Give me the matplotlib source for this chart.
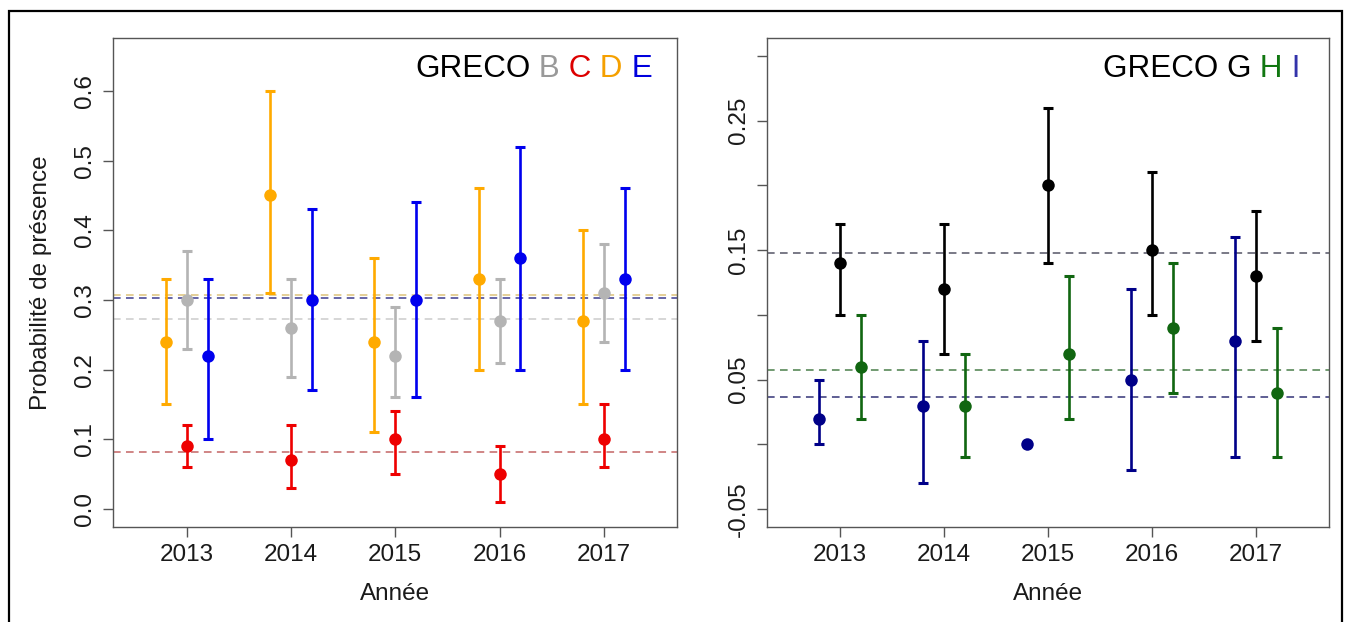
import numpy as np
import matplotlib
matplotlib.use('Agg')
import matplotlib.pyplot as plt
from matplotlib.patches import Rectangle

plt.rcParams['font.family'] = ['Liberation Sans', 'DejaVu Sans']

years = [2013, 2014, 2015, 2016, 2017]
year_labels = ['2013', '2014', '2015', '2016', '2017']

# left panel: GRECO B, C, D, E
b_est = [0.30, 0.26, 0.22, 0.27, 0.31]
b_low = [0.23, 0.19, 0.16, 0.21, 0.24]
b_high = [0.37, 0.33, 0.29, 0.33, 0.38]
c_est = [0.09, 0.07, 0.10, 0.05, 0.10]
c_low = [0.06, 0.03, 0.05, 0.01, 0.06]
c_high = [0.12, 0.12, 0.14, 0.09, 0.15]
d_est = [0.24, 0.45, 0.24, 0.33, 0.27]
d_low = [0.15, 0.31, 0.11, 0.20, 0.15]
d_high = [0.33, 0.60, 0.36, 0.46, 0.40]
e_est = [0.22, 0.30, 0.30, 0.36, 0.33]
e_low = [0.10, 0.17, 0.16, 0.20, 0.20]
e_high = [0.33, 0.43, 0.44, 0.52, 0.46]
b_mean, c_mean, d_mean, e_mean = 0.272, 0.082, 0.307, 0.303

# right panel: GRECO G, H, I
g_est = [0.14, 0.12, 0.20, 0.15, 0.13]
g_low = [0.10, 0.07, 0.14, 0.10, 0.08]
g_high = [0.17, 0.17, 0.26, 0.21, 0.18]
h_est = [0.06, 0.03, 0.07, 0.09, 0.04]
h_low = [0.02, -0.01, 0.02, 0.04, -0.01]
h_high = [0.10, 0.07, 0.13, 0.14, 0.09]
i_est = [0.02, 0.03, 0.00, 0.05, 0.08]
i_low = [0.00, -0.03, np.nan, -0.02, -0.01]
i_high = [0.05, 0.08, np.nan, 0.12, 0.16]
g_mean, h_mean, i_mean = 0.148, 0.0575, 0.0365

col_b, col_c, col_d, col_e = '#b4b4b4', '#ee0000', '#ffaa00', '#0000ee'
col_g, col_h, col_i = '#000000', '#116611', '#000088'

axis_col = '#555555'
text_col = '#1a1a1a'


def draw_series(ax, offset, est, low, high, color):
    x = np.array(years) + offset
    est = np.array(est)
    low = np.array(low)
    high = np.array(high)
    ok = ~np.isnan(low)
    # error bars with flat caps, then the points on top
    ax.errorbar(x[ok], est[ok], yerr=[est[ok] - low[ok], high[ok] - est[ok]],
                fmt='none', ecolor=color, elinewidth=1.9, capsize=3.5,
                capthick=2.2, zorder=3)
    ax.plot(x, est, 'o', color=color, ms=9, mew=0, zorder=4)


def mean_line(ax, y, color):
    ax.axhline(y, color=color, lw=1.1, ls=(0, (5, 3.5)), zorder=2)


def colored_title(ax, x, y, parts):
    t = ax.text(x, y, parts[0][0], color=parts[0][1], transform=ax.transAxes,
                fontsize=22.6, va='baseline', ha='left')
    for s, c in parts[1:]:
        t = ax.annotate(s, xy=(1, 0), xycoords=t, color=c, fontsize=22.6,
                        va='bottom', ha='left')


def style_axes(ax):
    ax.set_xlim(2012.296, 2017.704)
    ax.set_xticks(years)
    ax.set_xticklabels(year_labels)
    for sp in ax.spines.values():
        sp.set_color(axis_col)
        sp.set_linewidth(1.0)
    ax.tick_params(axis='both', direction='out', length=7.5, width=1.0,
                   color=axis_col, labelcolor=text_col, labelsize=17.5)
    ax.tick_params(axis='x', pad=5)
    ax.tick_params(axis='y', pad=5, labelrotation=90)
    for lab in ax.get_yticklabels():
        lab.set_va('center')
    ax.set_xlabel('Année', fontsize=17.5, color=text_col)
    ax.xaxis.set_label_coords(0.5, -0.137)
    ax.xaxis.label.set_va('center')


fig = plt.figure(figsize=(13.45, 6.22), dpi=100)

# left panel
ax1 = fig.add_axes([0.0842, 0.1527, 0.4193, 0.7862])
mean_line(ax1, d_mean, '#dcc27a')
mean_line(ax1, e_mean, '#3c3c90')
mean_line(ax1, b_mean, '#cccccc')
mean_line(ax1, c_mean, '#c46464')
draw_series(ax1, -0.2, d_est, d_low, d_high, col_d)
draw_series(ax1, 0.0, b_est, b_low, b_high, col_b)
draw_series(ax1, 0.2, e_est, e_low, e_high, col_e)
draw_series(ax1, 0.0, c_est, c_low, c_high, col_c)
ax1.set_ylim(-0.026, 0.676)
ax1.set_yticks([0.0, 0.1, 0.2, 0.3, 0.4, 0.5, 0.6])
ax1.set_yticklabels(['0.0', '0.1', '0.2', '0.3', '0.4', '0.5', '0.6'])
style_axes(ax1)
ax1.set_ylabel('Probabilité de présence', fontsize=17.5, color=text_col)
ax1.yaxis.set_label_coords(-0.128, 0.5)
ax1.yaxis.label.set_va('center')
colored_title(ax1, 0.535, 0.921, [('GRECO', 'black'), (' B', '#999999'),
                                  (' C', '#dd0000'), (' D', '#f5a000'),
                                  (' E', '#0000dd')])

# right panel
ax2 = fig.add_axes([0.5703, 0.1527, 0.4181, 0.7862])
mean_line(ax2, g_mean, '#555566')
mean_line(ax2, h_mean, '#4a7f4a')
mean_line(ax2, i_mean, '#333377')
draw_series(ax2, -0.2, i_est, i_low, i_high, col_i)
draw_series(ax2, 0.0, g_est, g_low, g_high, col_g)
draw_series(ax2, 0.2, h_est, h_low, h_high, col_h)
ax2.set_ylim(-0.0637, 0.3137)
ticks2 = [-0.05, 0.0, 0.05, 0.10, 0.15, 0.20, 0.25, 0.30]
ax2.set_yticks(ticks2)
ax2.set_yticklabels(['-0.05', '', '0.05', '', '0.15', '', '0.25', ''])
style_axes(ax2)
colored_title(ax2, 0.597, 0.921, [('GRECO G', 'black'), (' H', '#117711'),
                                  (' I', '#3333aa')])

# outer frame
fig.patches.append(Rectangle((8.5 / 1345, -0.05), (1341.5 - 8.5) / 1345,
                             1.05 - 10.5 / 622, transform=fig.transFigure,
                             fill=False, edgecolor='black', lw=1.6,
                             clip_on=False))

fig.savefig('out.png', dpi=100)
